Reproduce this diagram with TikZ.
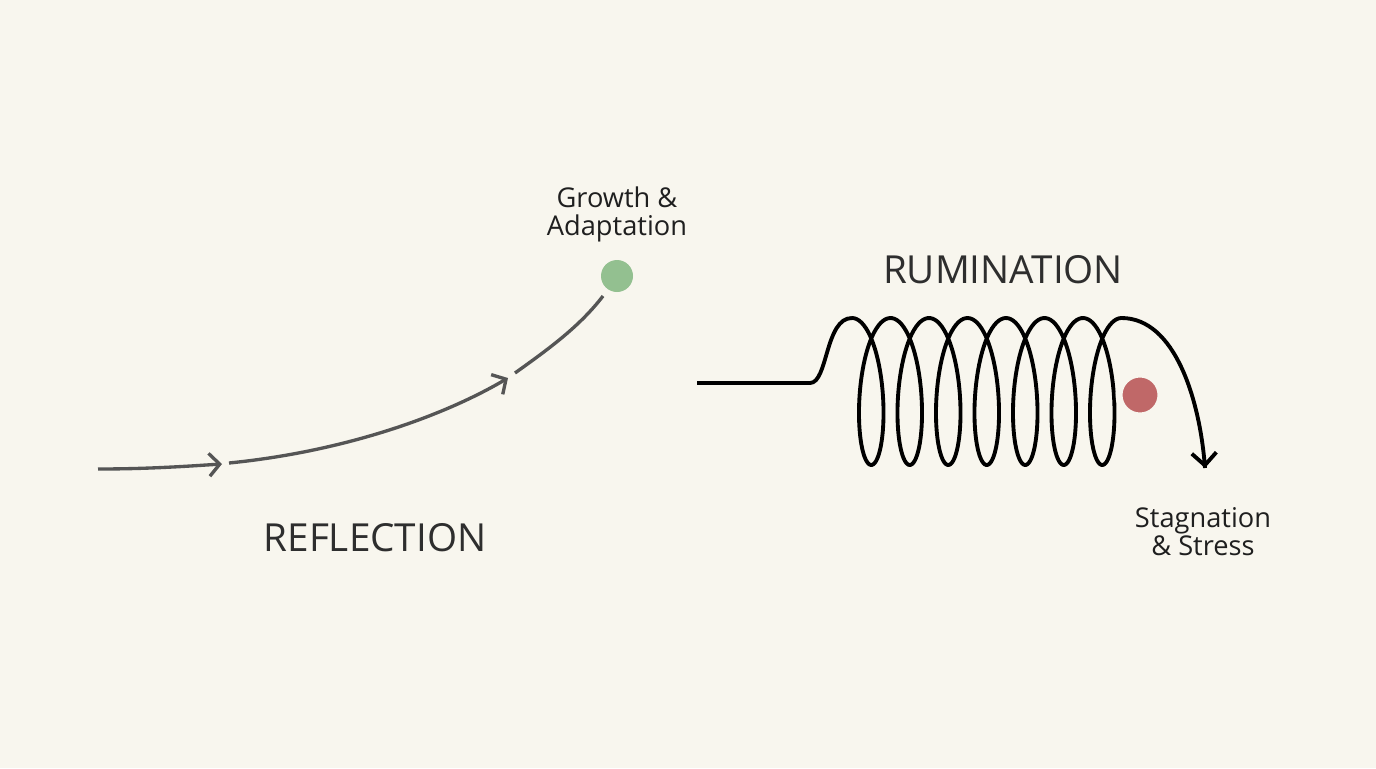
\documentclass[tikz,border=0pt]{standalone}
\usepackage{fontspec}
\setmainfont{Open Sans}
\usetikzlibrary{arrows.meta}
\definecolor{bgcol}{HTML}{F8F6EE}
\definecolor{linegray}{HTML}{555555}
\definecolor{growgreen}{HTML}{93C090}
\definecolor{stressred}{HTML}{C06868}
\tikzset{
  flow/.style={line width=1.9pt, color=linegray, -{Straight Barb[length=6pt,width=13pt]}},
  coil/.style={line width=2.2pt, color=black},
  dot/.style={circle, minimum size=0.64cm, inner sep=0pt},
  label/.style={font=\fontsize{15.5}{18}\selectfont, align=center, text=black!88},
  title/.style={font=\fontsize{22}{25}\selectfont, text=black!82}
}
\begin{document}
\begin{tikzpicture}[x=0.02cm, y=-0.02cm]
\fill[bgcol] (0,0) rectangle (1376,768);
\useasboundingbox (0,0) rectangle (1376,768);
% reflection path
\coordinate (r0) at (98,469);
\coordinate (r1) at (222,464);
\coordinate (r2) at (229,463);
\coordinate (r3) at (508,378);
\coordinate (r4) at (515,373);
\node[dot, fill=growgreen] (grow) at (617,276) {};
\draw[flow] (r0) .. controls (150,469) and (190,466) .. (r1);
\draw[flow] (r2) .. controls (340,452) and (440,418) .. (r3);
\draw[line width=1.9pt, color=linegray] (r4) .. controls (550,348) and (580,326) .. (603,296);
\node[label] (growtxt) at (617,214) {Growth \&\\[-2pt]Adaptation};
\node[title] (refl) at (375,538) {REFLECTION};
% rumination coil
\coordinate (c0) at (697,383);
\draw[coil] (c0) -- (810,383) .. controls (828,383) and (825,318) .. (852,318)
  plot[domain=0:2520, samples=500, smooth, variable=\t]
    ({852+\t/360*38.5+21*sin(\t)}, {391.5-73.5*cos(\t)})
  .. controls (1175,318) and (1200,400) .. (1205,468) coordinate (cend);
\draw[coil, -{Straight Barb[length=7pt,width=14pt]}] (1204.5,460) -- (cend);
\node[dot, fill=stressred, draw=bgcol, line width=4pt, minimum size=0.84cm] (stress) at (1140,395) {};
\node[title] (rum) at (1003,270) {RUMINATION};
\node[label] (stresstxt) at (1203,532) {Stagnation\\[-2pt]\& Stress};
\end{tikzpicture}
\end{document}
